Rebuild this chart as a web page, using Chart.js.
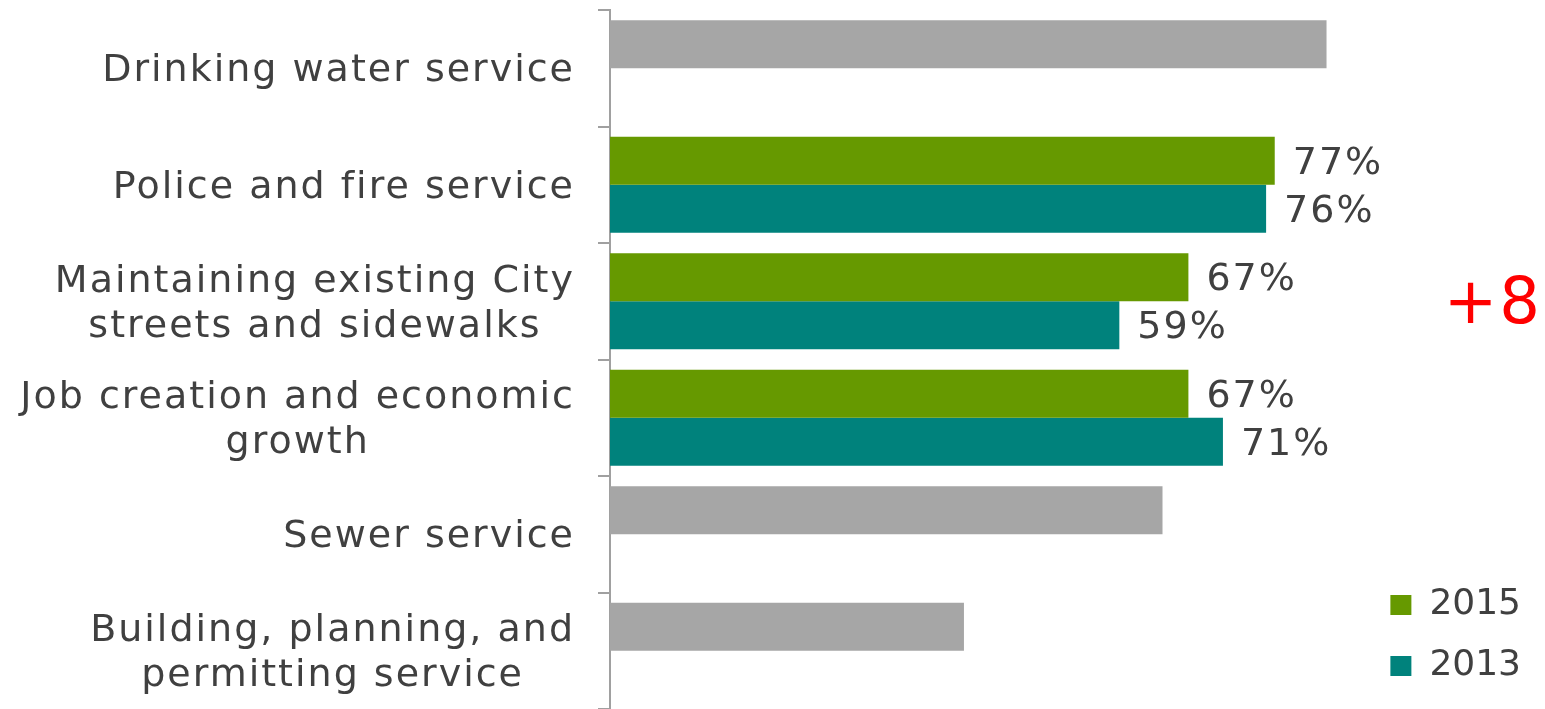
<!DOCTYPE html>
<html>
<head>
<meta charset="utf-8">
<script src="https://cdn.jsdelivr.net/npm/chart.js@4.4.1/dist/chart.umd.min.js"></script>
<style>
  html, body { margin: 0; padding: 0; background: #fff; }
  #wrap { width: 1545px; height: 709px; }
</style>
</head>
<body>
<div id="wrap"><canvas id="serviceChart"></canvas></div>
<script>
const categories = [
  "Drinking water service",
  "Police and fire service",
  ["Maintaining existing City", "streets and sidewalks"],
  ["Job creation and economic", "growth"],
  "Sewer service",
  ["Building, planning, and", "permitting service"],
];
const values2015 = [83, 77, 67, 67, 64, 41];
const values2013 = [null, 76, 59, 71, null, null];
const seriesNames = ["2015", "2013"];
const highlightIndex = 2; // category with the red change note
const xMax = 87.5;

const GREEN = "#669900";
const TEAL = "#00827c";
const GRAY = "#a6a6a6";
const TEXT = "#404040";
const AXIS = "#a0a0a0";
const FONT = "'DejaVu Sans', sans-serif";

// bars with no 2013 value are drawn gray
const colors2015 = values2013.map((v) => (v == null ? GRAY : GREEN));

// --- category labels: right-aligned block, lines centred within it ---
const categoryLabels = {
  id: "categoryLabels",
  afterDraw(chart) {
    const ctx = chart.ctx;
    const yScale = chart.scales.y;
    const right = chart.chartArea.left - 35;
    const lineHeight = 45;
    ctx.save();
    ctx.font = "38px " + FONT;
    ctx.letterSpacing = "2px";
    ctx.fillStyle = TEXT;
    ctx.textAlign = "center";
    ctx.textBaseline = "middle";
    categories.forEach((label, i) => {
      const lines = Array.isArray(label) ? label : [label];
      const widest = Math.max(...lines.map((l) => ctx.measureText(l).width));
      const cx = right - widest / 2;
      const cy = yScale.getPixelForValue(i) + 3;
      lines.forEach((line, k) => {
        const ly = cy + (k - (lines.length - 1) / 2) * lineHeight;
        ctx.fillText(line, cx, ly);
      });
    });
    ctx.restore();
  },
};

// --- value labels next to compared bars, plus the red change note ---
const valueLabels = {
  id: "valueLabels",
  afterDatasetsDraw(chart) {
    const ctx = chart.ctx;
    ctx.save();
    ctx.font = "38px " + FONT;
    ctx.letterSpacing = "2px";
    ctx.fillStyle = TEXT;
    ctx.textAlign = "left";
    ctx.textBaseline = "middle";
    chart.data.datasets.forEach((ds, i) => {
      chart.getDatasetMeta(i).data.forEach((bar, j) => {
        if (values2015[j] == null || values2013[j] == null) return;
        ctx.fillText(ds.data[j] + "%", bar.x + 18, bar.y + 3);
      });
    });

    const diff = values2015[highlightIndex] - values2013[highlightIndex];
    ctx.font = "64px " + FONT;
    ctx.letterSpacing = "2px";
    ctx.fillStyle = "#ff0000";
    ctx.textAlign = "right";
    ctx.fillText((diff > 0 ? "+" : "") + diff, 1542, chart.scales.y.getPixelForValue(highlightIndex) + 5);
    ctx.restore();
  },
};

new Chart(document.getElementById("serviceChart"), {
  type: "bar",
  data: {
    labels: categories,
    datasets: [
      {
        label: seriesNames[0],
        data: values2015,
        backgroundColor: colors2015,
        categoryPercentage: 0.824,
        barPercentage: 1.0,
      },
      {
        label: seriesNames[1],
        data: values2013,
        backgroundColor: TEAL,
        categoryPercentage: 0.824,
        barPercentage: 1.0,
      },
    ],
  },
  options: {
    indexAxis: "y",
    responsive: true,
    maintainAspectRatio: false,
    animation: false,
    layout: { padding: { top: 10, left: 598, right: 14, bottom: 0 } },
    plugins: {
      legend: {
        position: "right",
        align: "end",
        labels: {
          boxWidth: 21,
          boxHeight: 20,
          padding: 25,
          color: TEXT,
          font: { family: FONT, size: 36 },
          generateLabels: () => [
            { text: seriesNames[0], fillStyle: GREEN, strokeStyle: GREEN, fontColor: TEXT, lineWidth: 0, datasetIndex: 0 },
            { text: seriesNames[1], fillStyle: TEAL, strokeStyle: TEAL, fontColor: TEXT, lineWidth: 0, datasetIndex: 1 },
          ],
        },
      },
      tooltip: { enabled: false },
    },
    scales: {
      x: { display: false, min: 0, max: xMax },
      y: {
        grid: { drawOnChartArea: false, tickLength: 12, color: AXIS, lineWidth: 2 },
        border: { color: AXIS, width: 2 },
        ticks: { display: false },
      },
    },
  },
  plugins: [categoryLabels, valueLabels],
});
</script>
</body>
</html>
